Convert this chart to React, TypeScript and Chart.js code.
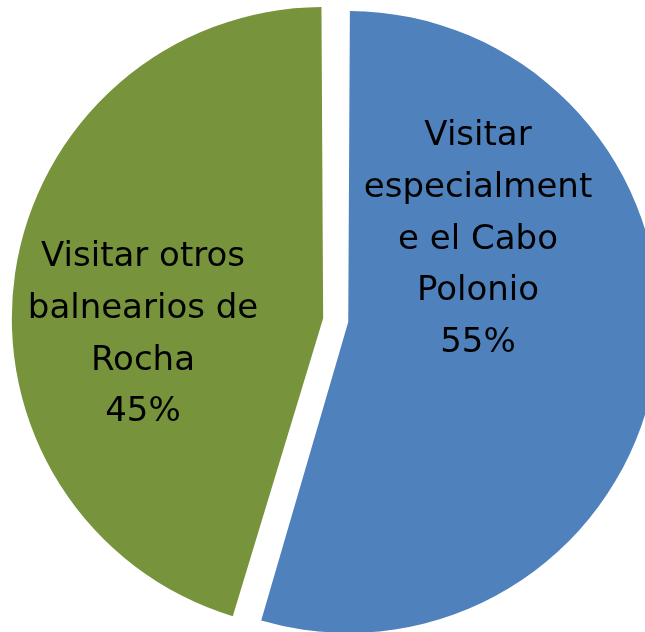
import React, { useEffect, useRef } from "react";
import { Chart, registerables } from "chart.js";

Chart.register(...registerables);

const categories = [
  "Visitar especialmente el Cabo Polonio",
  "Visitar otros balnearios de Rocha",
];
const values = [54.6, 45.4];
const labelLines = [
  ["Visitar", "especialment", "e el Cabo", "Polonio"],
  ["Visitar otros", "balnearios de", "Rocha"],
];
const colors = ["#4F81BD", "#77933C"];
// label anchor relative to pie centre (style, not data)
const labelOffsets = [
  { dx: 140, dy: -175.5 },
  { dx: -195, dy: -54.5 },
];

const FONT = "34px 'DejaVu Sans'";
const LINE_H = 51.8;

const labelPlugin = {
  id: "sliceLabels",
  afterDatasetsDraw(chart: any) {
    const ctx = chart.ctx;
    const meta = chart.getDatasetMeta(0);
    const total = values.reduce((a, b) => a + b, 0);
    ctx.save();
    ctx.fillStyle = "#000000";
    ctx.font = FONT;
    ctx.textAlign = "center";
    ctx.textBaseline = "alphabetic";
    meta.data.forEach((arc: any, i: number) => {
      const lines = [...labelLines[i], Math.round((values[i] / total) * 100) + "%"];
      const x = arc.x + labelOffsets[i].dx;
      const y0 = arc.y + labelOffsets[i].dy;
      lines.forEach((ln, k) => ctx.fillText(ln, x, y0 + k * LINE_H));
    });
    ctx.restore();
  },
};

export default function App() {
  const ref = useRef<HTMLCanvasElement | null>(null);
  useEffect(() => {
    if (!ref.current) return;
    const chart = new Chart(ref.current, {
      type: "pie",
      data: {
        labels: categories,
        datasets: [
          {
            data: values,
            backgroundColor: colors,
            borderWidth: 0,
            offset: [41.4, 60],
          },
        ],
      },
      options: {
        responsive: false,
        animation: false,
        radius: 300.6,
        layout: { padding: 0 },
        plugins: {
          legend: { display: false },
          tooltip: { enabled: false },
          title: { display: false },
        },
        events: [],
      } as any,
      plugins: [labelPlugin],
    });
    return () => chart.destroy();
  }, []);
  return (
    <div
      style={{
        position: "fixed",
        left: 0,
        top: 0,
        width: 645,
        height: 632,
        overflow: "hidden",
        background: "#ffffff",
      }}
    >
      <canvas ref={ref} width={676} height={641} style={{ display: "block" }} />
    </div>
  );
}
